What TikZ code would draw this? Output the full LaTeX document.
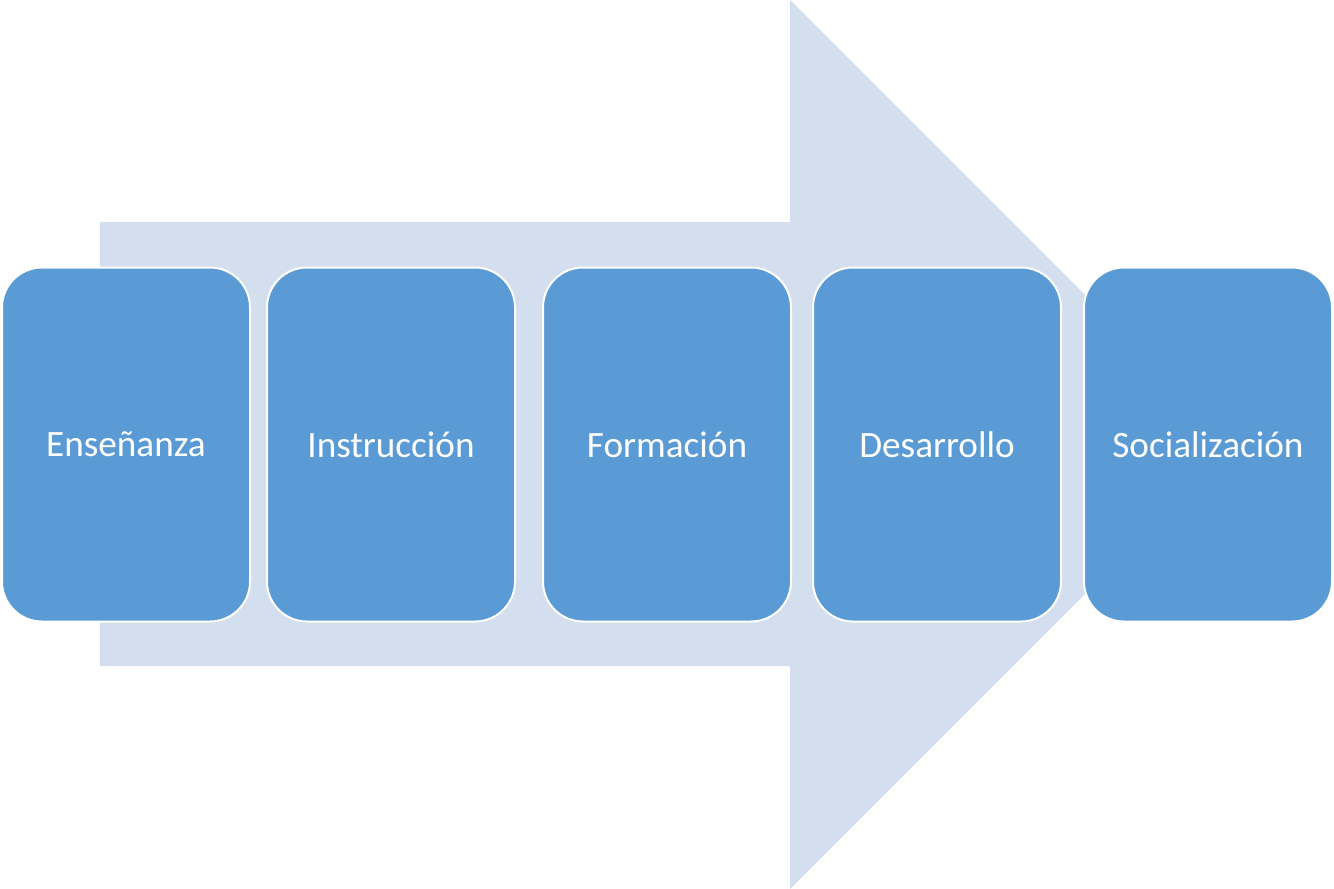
\documentclass[tikz,border=0pt]{standalone}
\usepackage{fontspec}
\setmainfont{Carlito}
\definecolor{boxblue}{HTML}{5B9BD5}
\definecolor{arrowblue}{HTML}{D3DFEF}
\begin{document}
\begin{tikzpicture}[x=1pt,y=-1pt,
  stagebox/.style={draw=white, line width=2pt, fill=boxblue, rounded corners=40pt,
    minimum width=248pt, minimum height=354pt, inner sep=0pt, text=white,
    font=\fontsize{37.2}{44}\selectfont, anchor=center}]
\useasboundingbox (0,0) rectangle (1334,889);
\fill[arrowblue] (100,222) -- (790,222) -- (790,0) -- (1234.5,444.5) -- (790,889) -- (790,666) -- (100,666) -- cycle;
\node[stagebox] (b1) at (126,444.5) {Enseñanza};
\node[stagebox] (b2) at (391,444.5) {Instrucción};
\node[stagebox] (b3) at (667,444.5) {Formación};
\node[stagebox] (b4) at (937,444.5) {Desarrollo};
\node[stagebox] (b5) at (1208,444.5) {Socialización};
\end{tikzpicture}
\end{document}
